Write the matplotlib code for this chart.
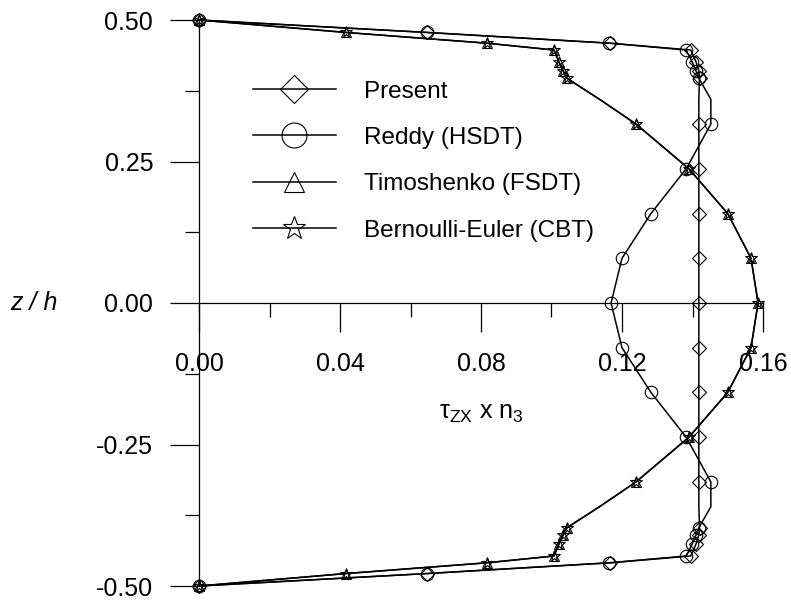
import matplotlib.pyplot as plt
from matplotlib.ticker import MultipleLocator, FormatStrFormatter

plt.rcParams['font.family'] = ['Liberation Sans', 'DejaVu Sans']
plt.rcParams['mathtext.fontset'] = 'custom'
plt.rcParams['mathtext.rm'] = 'Liberation Sans'
plt.rcParams['mathtext.it'] = 'Liberation Sans:italic'
plt.rcParams['axes.unicode_minus'] = False

# thickness coordinate z/h (top to bottom)
z = [0.5, 0.478, 0.459, 0.447, 0.426, 0.41, 0.397, 0.36, 0.316, 0.237, 0.158, 0.079, 0.0,
     -0.079, -0.158, -0.237, -0.316, -0.36, -0.397, -0.41, -0.426, -0.447, -0.459, -0.478, -0.5]

# transverse shear stress tau_zx x n3 for each theory
present = [0.0, 0.0647, 0.1167, 0.1395, 0.1410, 0.1418, 0.1420, 0.1418, 0.1418, 0.1418, 0.1418, 0.1418, 0.1418,
           0.1418, 0.1418, 0.1418, 0.1418, 0.1418, 0.1420, 0.1418, 0.1410, 0.1395, 0.1167, 0.0647, 0.0]
reddy = [0.0, 0.0647, 0.1164, 0.1382, 0.1399, 0.1410, 0.1418, 0.1452, 0.1452, 0.1382, 0.1282, 0.1200, 0.1169,
         0.1200, 0.1282, 0.1382, 0.1452, 0.1452, 0.1418, 0.1410, 0.1399, 0.1382, 0.1164, 0.0647, 0.0]
timoshenko = [0.0, 0.0417, 0.0817, 0.1007, 0.1021, 0.1033, 0.1044, 0.1136, 0.1240, 0.1390, 0.1500, 0.1566, 0.1586,
              0.1566, 0.1500, 0.1390, 0.1240, 0.1136, 0.1044, 0.1033, 0.1021, 0.1007, 0.0817, 0.0417, 0.0]
bernoulli = list(timoshenko)

# the z = +-0.36 rows only shape the lines, no symbol drawn there
shown = [i for i in range(len(z)) if abs(z[i]) != 0.36]

fig = plt.figure(figsize=(7.91, 6), dpi=100)
ax = fig.add_axes([199 / 791, 14 / 600, 564 / 791, 566 / 600])

style = dict(color='black', lw=1.1, mfc='none', mec='black', mew=0.8, clip_on=False)
ax.plot(present, z, marker='D', ms=7, markevery=shown, label='Present', **style)
ax.plot(reddy, z, marker='o', ms=9, markevery=shown, label='Reddy (HSDT)', **style)
ax.plot(timoshenko, z, marker='^', ms=7, markevery=shown, label='Timoshenko (FSDT)', **style)
ax.plot(bernoulli, z, marker='*', ms=8.5, markevery=shown, label='Bernoulli-Euler (CBT)', **style)

ax.set_xlim(0, 0.16)
ax.set_ylim(-0.5, 0.5)
ax.spines['bottom'].set_position(('data', 0))
ax.spines['top'].set_visible(False)
ax.spines['right'].set_visible(False)
for s in ('left', 'bottom'):
    ax.spines[s].set_linewidth(0.9)

ax.xaxis.set_major_locator(MultipleLocator(0.04))
ax.xaxis.set_minor_locator(MultipleLocator(0.02))
ax.yaxis.set_major_locator(MultipleLocator(0.25))
ax.yaxis.set_minor_locator(MultipleLocator(0.125))
ax.xaxis.set_major_formatter(FormatStrFormatter('%.2f'))
ax.yaxis.set_major_formatter(FormatStrFormatter('%.2f'))
ax.tick_params(which='major', length=21, width=0.9, labelsize=18, pad=12)
ax.tick_params(axis='x', which='major', pad=14)
ax.tick_params(which='minor', length=10, width=0.9)

ax.set_xlabel('τ$_{\\mathrm{ZX}}$ x n$_{\\mathrm{3}}$', fontsize=18, labelpad=18)
ax.set_ylabel('z / h', fontsize=18, style='italic', rotation=0, ha='center', va='center')
ax.yaxis.set_label_coords(-0.293, 0.5)

ax.legend(loc='upper left', bbox_to_anchor=(0.096, 0.893), frameon=False, fontsize=17.5,
          markerscale=2, numpoints=1, handlelength=3.4, handletextpad=1.15,
          labelspacing=1.0, borderpad=0, borderaxespad=0)

fig.savefig('out.png', dpi=100)
